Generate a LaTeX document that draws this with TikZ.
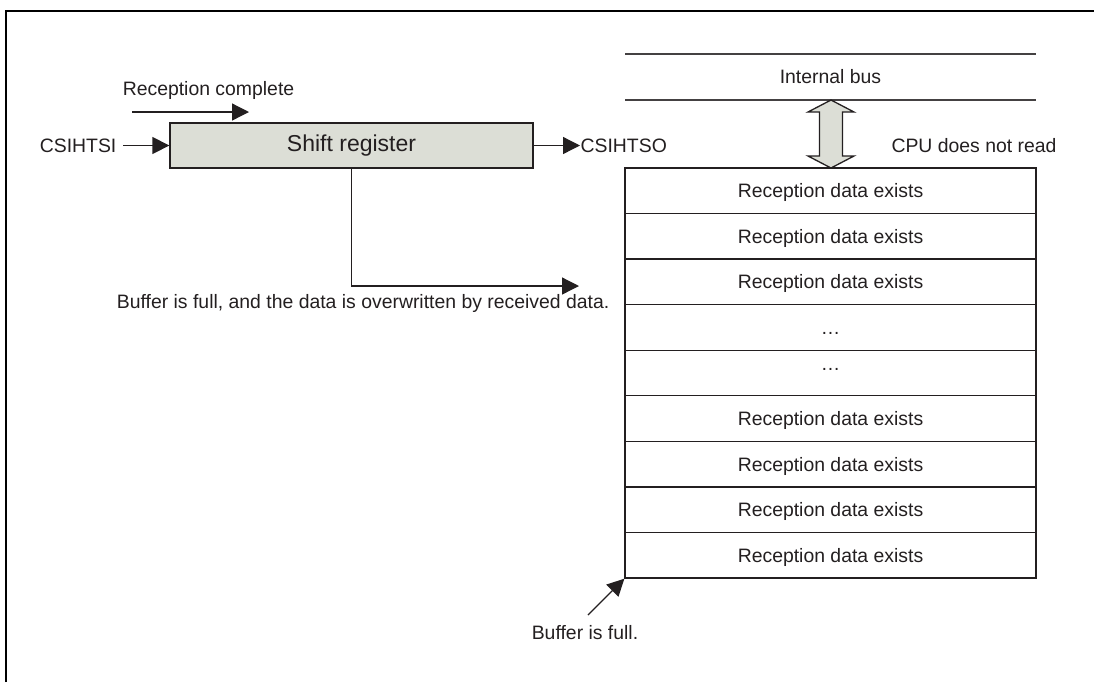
\documentclass[tikz,border=0pt]{standalone}
\usepackage{fontspec}
\setmainfont{Liberation Sans}
\usetikzlibrary{arrows.meta}

\definecolor{regfill}{HTML}{DCDED6}
\definecolor{ink}{HTML}{231F20}

\begin{document}
\begin{tikzpicture}[x=0.5pt,y=-0.5pt,line width=0.65pt,>={Triangle[length=8.5pt,width=8.5pt]},
  txt/.style={inner sep=0pt,font=\fontsize{9.7pt}{11pt}\selectfont,text=ink},
  cell/.style={draw=ink,minimum width=205.5pt,minimum height=22.78pt,inner sep=0pt,
    font=\fontsize{9.7pt}{11pt}\selectfont,text=ink,text height=7pt,text depth=0pt}]
  \useasboundingbox (0,0) rectangle (1094,682);
  % frame
  \draw[line width=1.1pt] (6,682) -- (6,11) -- (1094,11);
  % shift register
  \node[draw=ink,fill=regfill,minimum width=181.5pt,minimum height=22.5pt,inner sep=0pt,
    font=\fontsize{11.5pt}{13pt}\selectfont,text=ink] (sreg) at (351.5,145.5) {Shift register};
  \node[txt,anchor=east] (sin) at (117,145.5) {CSIHTSI};
  \draw[->,ink] ([xshift=3pt]sin.east) -- (sreg.west);
  \node[txt,anchor=west] (sout) at (580,145.5) {CSIHTSO};
  \draw[->,ink] (sreg.east) -- (sout.west);
  % reception complete
  \node[txt] (rcpt) at (208.5,90) {Reception complete};
  \coordinate (rcA) at (132,112);
  \coordinate (rcB) at (249,112);
  \draw[->,ink] (rcA) -- (rcB);
  % overwrite path
  \coordinate (ovr) at (579,286);
  \draw[->,ink] (sreg.south) |- (ovr);
  \node[txt,anchor=east] (ovrtxt) at (610,303) {Buffer is full, and the data is overwritten by received data.};
  % internal bus
  \draw[ink!85] (625,54) -- (1036,54);
  \draw[ink!85] (625,100) -- (1036,100);
  \node[txt] (bus) at (830.5,77) {Internal bus};
  % buffer
  \foreach \i/\t in {1/Reception data exists,2/Reception data exists,3/Reception data exists,
      4/…,5/\raisebox{5pt}{…},6/Reception data exists,7/Reception data exists,
      8/Reception data exists,9/Reception data exists}
    \node[cell] (row\i) at (830.5,{168+45.56*(\i-0.5)}) {\t};
  % bus access
  \draw[ink,fill=regfill] (831,100) -- (854,112) -- (842.5,112) -- (842.5,156) -- (854,156)
    -- (831,168) -- (808,156) -- (819.5,156) -- (819.5,112) -- (808,112) -- cycle;
  \node[txt] (cpu) at (974,145.5) {CPU does not read};
  % buffer full
  \node[txt] (full) at (585,633) {Buffer is full.};
  \coordinate (fullarr) at (588,615);
  \draw[->,ink] (fullarr) -- (row9.south west);
\end{tikzpicture}
\end{document}
